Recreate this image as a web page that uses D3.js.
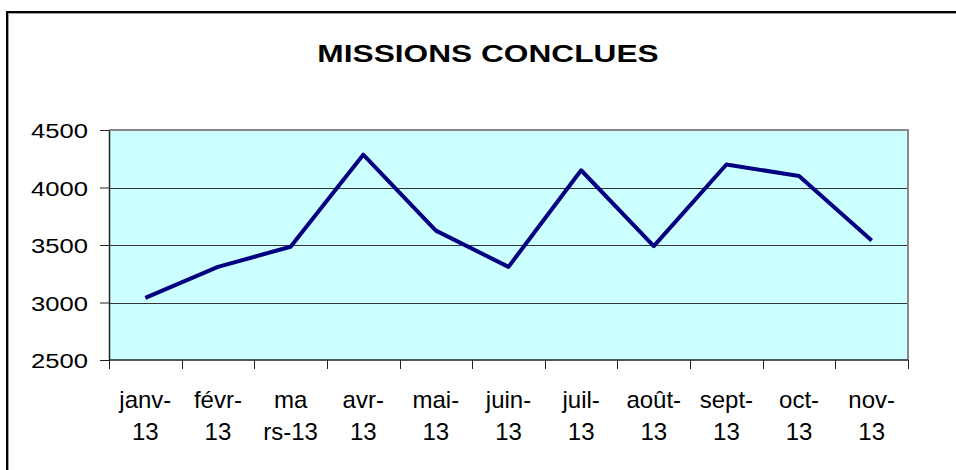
<!DOCTYPE html>
<html>
<head>
<meta charset="utf-8">
<script src="https://cdn.jsdelivr.net/npm/d3@7"></script>
<style>
  body { margin: 0; background: #fff; }
  svg { display: block; }
</style>
</head>
<body>
<div id="chart"></div>
<script>
// data
const months = ["janv-13", "févr-13", "mars-13", "avr-13", "mai-13", "juin-13",
                "juil-13", "août-13", "sept-13", "oct-13", "nov-13"];
// the category labels wrap on two lines in the original
const labelTop = ["janv-", "févr-", "ma", "avr-", "mai-", "juin-", "juil-", "août-", "sept-", "oct-", "nov-"];
const labelBottom = ["13", "13", "rs-13", "13", "13", "13", "13", "13", "13", "13", "13"];
const missions = [3040, 3310, 3485, 4285, 3625, 3310, 4150, 3490, 4200, 4100, 3540];
const yTicks = [2500, 3000, 3500, 4000, 4500];

const W = 956, H = 470;
const plot = { left: 109, right: 908, top: 130, bottom: 360 };

const svg = d3.select("#chart").append("svg")
  .attr("width", W)
  .attr("height", H);

// outer frame (runs off the right and bottom edges)
svg.append("rect")
  .attr("x", 8.5).attr("y", 13.5)
  .attr("width", 980).attr("height", 500)
  .attr("fill", "none")
  .attr("stroke", "#a0a0a0")
  .attr("stroke-width", 1);
svg.append("rect")
  .attr("x", 7).attr("y", 12)
  .attr("width", 980).attr("height", 500)
  .attr("fill", "none")
  .attr("stroke", "#000")
  .attr("stroke-width", 2);

// title
svg.append("text")
  .attr("transform", "translate(488,62) scale(1.32,1)")
  .attr("text-anchor", "middle")
  .attr("font-family", "Liberation Sans, Arial, sans-serif")
  .attr("font-weight", "bold")
  .attr("font-size", 24)
  .text("MISSIONS CONCLUES");

const x = d3.scaleBand()
  .domain(months)
  .range([plot.left, plot.right]);

const y = d3.scaleLinear()
  .domain([2500, 4500])
  .range([plot.bottom, plot.top]);

// plot background
svg.append("rect")
  .attr("x", plot.left).attr("y", plot.top)
  .attr("width", plot.right - plot.left)
  .attr("height", plot.bottom - plot.top)
  .attr("fill", "#ccffff");

// gridlines
svg.append("g")
  .selectAll("line")
  .data(yTicks.slice(1, -1))
  .enter().append("line")
  .attr("x1", plot.left).attr("x2", plot.right)
  .attr("y1", d => Math.round(y(d)) + 0.5)
  .attr("y2", d => Math.round(y(d)) + 0.5)
  .attr("stroke", "#333")
  .attr("stroke-width", 1);

// grey border top and right
svg.append("path")
  .attr("d", `M${plot.left},${plot.top} H${plot.right} V${plot.bottom}`)
  .attr("fill", "none")
  .attr("stroke", "#888")
  .attr("stroke-width", 2);

// y axis
const yAxis = svg.append("g")
  .attr("transform", `translate(${plot.left},0)`)
  .call(d3.axisLeft(y).tickValues(yTicks).tickSize(9).tickSizeOuter(0).tickFormat(d3.format("d")));
yAxis.select(".domain").attr("stroke", "#222").attr("stroke-width", 1.5);
yAxis.selectAll(".tick line").attr("stroke", "#222");
yAxis.selectAll(".tick text").remove();
yAxis.selectAll(".tick").append("text")
  .attr("transform", "translate(-21,7.5) scale(1.22,1)")
  .attr("text-anchor", "end")
  .attr("fill", "#000")
  .attr("font-family", "Liberation Sans, Arial, sans-serif")
  .attr("font-size", 21)
  .text(d => d);

// x axis line + ticks at category boundaries
svg.append("line")
  .attr("x1", plot.left).attr("x2", plot.right)
  .attr("y1", plot.bottom).attr("y2", plot.bottom)
  .attr("stroke", "#222").attr("stroke-width", 1.5);
const bounds = months.map(m => x(m)).concat([plot.right]);
svg.append("g")
  .selectAll("line")
  .data(bounds)
  .enter().append("line")
  .attr("x1", d => Math.round(d) + 0.5).attr("x2", d => Math.round(d) + 0.5)
  .attr("y1", plot.bottom).attr("y2", plot.bottom + 9)
  .attr("stroke", "#222");

const xLabels = svg.append("g")
  .attr("font-family", "Liberation Sans, Arial, sans-serif")
  .attr("font-size", 24)
  .attr("text-anchor", "middle");
xLabels.selectAll("text.top")
  .data(months)
  .enter().append("text")
  .attr("class", "top")
  .attr("x", d => x(d) + x.bandwidth() / 2)
  .attr("y", 407.5)
  .text((d, i) => labelTop[i]);
xLabels.selectAll("text.bottom")
  .data(months)
  .enter().append("text")
  .attr("class", "bottom")
  .attr("x", d => x(d) + x.bandwidth() / 2)
  .attr("y", 440)
  .text((d, i) => labelBottom[i]);

// the line
const line = d3.line()
  .x((d, i) => x(months[i]) + x.bandwidth() / 2)
  .y(d => y(d));

svg.append("path")
  .datum(missions)
  .attr("d", line)
  .attr("fill", "none")
  .attr("stroke", "#000080")
  .attr("stroke-width", 4)
  .attr("stroke-linejoin", "round");
</script>
</body>
</html>
